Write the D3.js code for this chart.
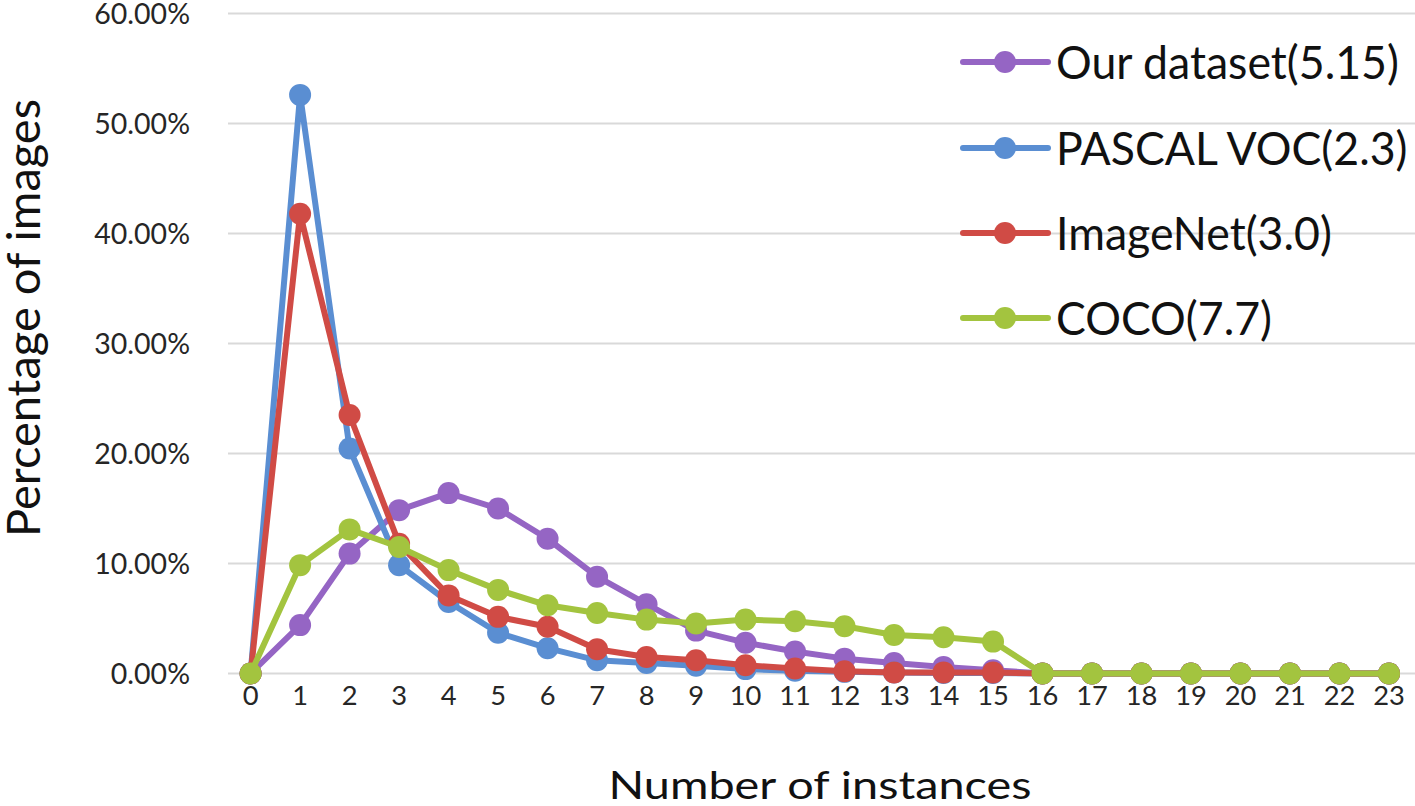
<!DOCTYPE html>
<html><head><meta charset="utf-8">
<script src="https://cdn.jsdelivr.net/npm/d3@7"></script>
<style>body{margin:0;background:#fff;} svg{display:block;font-family:Lato, "Open Sans", sans-serif;}</style>
</head><body>
<svg id="c" width="1415" height="806"></svg>
<script>
const categories = d3.range(0, 24).map(String);
const seriesNames = ["Our dataset(5.15)", "PASCAL VOC(2.3)", "ImageNet(3.0)", "COCO(7.7)"];
const seriesColors = ["#9565c4", "#5a8ed2", "#d04b45", "#a3c43f"];
const ourDataset = [0, 4.4, 10.9, 14.85, 16.4, 15.0, 12.25, 8.8, 6.3, 3.9, 2.8, 2.0, 1.35, 0.95, 0.6, 0.3, 0, 0, 0, 0, 0, 0, 0, 0];
const pascalVoc  = [0, 52.6, 20.45, 9.85, 6.5, 3.7, 2.3, 1.2, 0.95, 0.7, 0.4, 0.25, 0.15, 0.1, 0.05, 0.05, 0, 0, 0, 0, 0, 0, 0, 0];
const imageNet   = [0, 41.8, 23.5, 11.8, 7.1, 5.15, 4.25, 2.2, 1.5, 1.2, 0.75, 0.45, 0.2, 0.1, 0.1, 0.1, 0, 0, 0, 0, 0, 0, 0, 0];
const coco       = [0, 9.85, 13.1, 11.5, 9.4, 7.6, 6.2, 5.5, 4.9, 4.55, 4.9, 4.75, 4.3, 3.5, 3.3, 2.9, 0, 0, 0, 0, 0, 0, 0, 0];
const yTicks = [0, 10, 20, 30, 40, 50, 60];
const allSeries = [ourDataset, pascalVoc, imageNet, coco];

const svg = d3.select("#c");
const x = d3.scaleLinear().domain([0, 23]).range([250.6, 1389]);
const y = d3.scaleLinear().domain([0, 60]).range([673.5, 13.5]);

svg.append("g").selectAll("line").data(yTicks).join("line")
  .attr("x1", 228).attr("x2", 1415)
  .attr("y1", d => y(d)).attr("y2", d => y(d))
  .attr("stroke", "#d9d9d9").attr("stroke-width", 2);

svg.append("g").selectAll("text").data(yTicks).join("text")
  .attr("x", 190).attr("y", d => y(d)).attr("dy", "0.36em")
  .attr("text-anchor", "end").attr("font-size", 28.5).attr("fill", "#262626")
  .text(d => d3.format(".2f")(d) + "%");

svg.append("g").selectAll("text").data(categories).join("text")
  .attr("transform", (d, i) => `translate(${x(i)},696) scale(1.05,1)`).attr("dy", "0.36em")
  .attr("text-anchor", "middle").attr("font-size", 26).attr("fill", "#262626")
  .text(d => d);

svg.append("text").attr("transform", "translate(820,799) scale(1.2,1)").attr("text-anchor", "middle")
  .attr("font-size", 39).attr("fill", "#111").text("Number of instances");
svg.append("text").attr("transform", "translate(40,318) rotate(-90)").attr("text-anchor", "middle")
  .attr("font-size", 47).attr("fill", "#111").text("Percentage of images");

const line = d3.line().x((d, i) => x(i)).y(d => y(d));
allSeries.forEach((s, k) => {
  const g = svg.append("g");
  g.append("path").datum(s).attr("d", line).attr("fill", "none")
    .attr("stroke", seriesColors[k]).attr("stroke-width", 6).attr("stroke-linejoin", "round");
  g.selectAll("circle").data(s).join("circle")
    .attr("cx", (d, i) => x(i)).attr("cy", d => y(d)).attr("r", 11)
    .attr("fill", seriesColors[k]);
});

const legY = [62, 148, 233, 318];
const leg = svg.append("g");
seriesNames.forEach((n, k) => {
  leg.append("line").attr("x1", 963).attr("x2", 1048).attr("y1", legY[k]).attr("y2", legY[k])
    .attr("stroke", seriesColors[k]).attr("stroke-width", 6).attr("stroke-linecap", "round");
  leg.append("circle").attr("cx", 1005).attr("cy", legY[k]).attr("r", 11).attr("fill", seriesColors[k]);
  leg.append("text").attr("transform", `translate(1056,${legY[k]}) scale(0.95,1)`).attr("dy", "0.36em")
    .attr("font-size", 47).attr("fill", "#111").text(n);
});
</script>
</body></html>
